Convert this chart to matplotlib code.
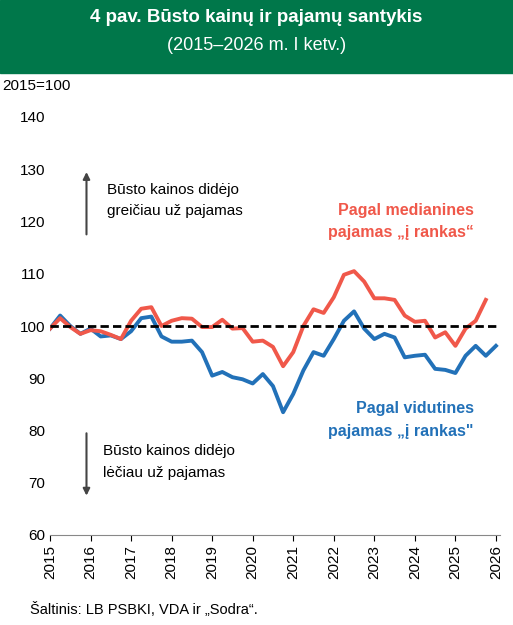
import matplotlib
matplotlib.use("Agg")
import matplotlib.pyplot as plt
import numpy as np

plt.rcParams['font.family'] = ['Liberation Sans', 'DejaVu Sans']

years = list(range(2015, 2027))
avg = [99.5, 102, 100, 98.5, 99.5, 98, 98.2, 97.5, 99, 101.5, 101.8, 98, 97, 97, 97.2, 95,
       90.5, 91.2, 90.2, 89.8, 89, 90.8, 88.5, 83.5, 87, 91.5, 95, 94.3, 97.5, 101, 102.8, 99.5,
       97.5, 98.5, 97.8, 94, 94.3, 94.5, 91.8, 91.6, 91, 94.3, 96.2, 94.3, 96.2]
med = [99.5, 101.5, 99.8, 98.5, 99.2, 99, 98.3, 97.5, 101, 103.3, 103.6, 100, 101, 101.5, 101.4, 99.8,
       99.8, 101.2, 99.5, 99.6, 97, 97.2, 96, 92.3, 95, 100, 103.2, 102.5, 105.5, 109.8, 110.5, 108.5,
       105.3, 105.3, 105, 102, 100.8, 101, 97.8, 98.8, 96.2, 99.5, 101, 105]
x_avg = 2015 + np.arange(len(avg)) * 0.25
x_med = 2015 + np.arange(len(med)) * 0.25

fig = plt.figure(figsize=(5.13, 6.25), dpi=100)
green = '#00774A'
fig.patches.append(plt.Rectangle((0, 1 - 73/625), 1, 73/625, transform=fig.transFigure, color=green, zorder=0))
fig.text(0.5, 1 - 17/625, '4 pav. Būsto kainų ir pajamų santykis', ha='center', va='center', color='white', fontsize=13.5, fontweight='bold')
fig.text(0.5, 1 - 46/625, '(2015–2026 m. I ketv.)', ha='center', va='center', color='white', fontsize=13)

ax = fig.add_axes([50/513, 1 - 535/625, 450/513, 418/625])
ax.plot(x_avg, avg, color='#2271B8', lw=2.8)
ax.plot(x_med, med, color='#F0584A', lw=2.8)
ax.axhline(100, color='black', lw=2, ls=(0, (3, 1.5)))
ax.set_xlim(2015, 2026.1)
ax.set_ylim(60, 140)
ax.set_yticks(range(60, 141, 10))
ax.set_xticks(years)
ax.set_xticklabels([str(y) for y in years], rotation=90)
ax.tick_params(labelsize=11, length=0)
ax.tick_params(axis='x', length=4, direction='out')
for s in ['top', 'right', 'left']:
    ax.spines[s].set_visible(False)
ax.spines['bottom'].set_color('#888888')
fig.text(2/513, 1 - 90/625, '2015=100', fontsize=11)

ax.annotate('', xy=(2015.9, 130), xytext=(2015.9, 117), arrowprops=dict(arrowstyle='-|>', color='#444444', lw=1.5))
ax.annotate('', xy=(2015.9, 67), xytext=(2015.9, 80), arrowprops=dict(arrowstyle='-|>', color='#444444', lw=1.5))
ax.text(2016.4, 124, 'Būsto kainos didėjo\ngreičiau už pajamas', fontsize=11, va='center', linespacing=1.7)
ax.text(2016.3, 74, 'Būsto kainos didėjo\nlėčiau už pajamas', fontsize=11, va='center', linespacing=1.7)
ax.text(2025.45, 120, 'Pagal medianines\npajamas „į rankas“', color='#F0584A', fontsize=11.5, fontweight='bold', ha='right', va='center', linespacing=1.6)
ax.text(2025.45, 82, 'Pagal vidutines\npajamas „į rankas"', color='#2271B8', fontsize=11.5, fontweight='bold', ha='right', va='center', linespacing=1.6)
fig.text(30/513, 1 - 610/625, 'Šaltinis: LB PSBKI, VDA ir „Sodra“.', fontsize=10.5, va='center')
fig.savefig('out.png', dpi=100)
